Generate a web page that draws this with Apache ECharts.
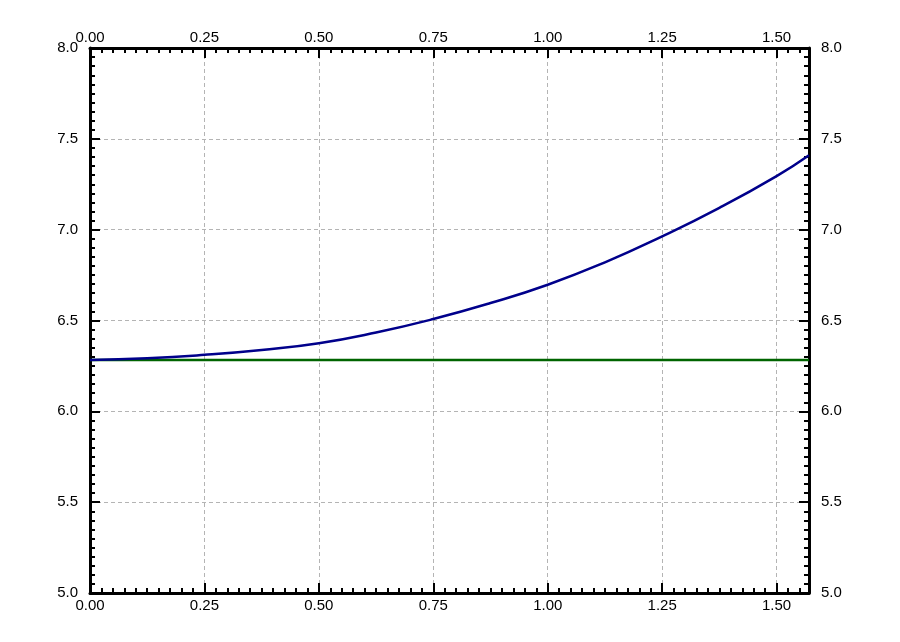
<!DOCTYPE html>
<html>
<head>
<meta charset="utf-8">
<script src="https://cdn.jsdelivr.net/npm/echarts@6/dist/echarts.min.js"></script>
<style>html,body{margin:0;padding:0;background:#fff;}#c{width:900px;height:642px;}</style>
</head>
<body>
<div id="c"></div>
<script>
// x positions (radians)
var xValues = [0, 0.125, 0.25, 0.375, 0.5, 0.625, 0.75, 0.875, 1.0, 1.125, 1.25, 1.375, 1.5, 1.5708];
// blue curve values
var blueValues = [6.283, 6.292, 6.311, 6.338, 6.375, 6.434, 6.508, 6.596, 6.697, 6.820, 6.963, 7.120, 7.295, 7.410];
// green horizontal line (constant) endpoints
var greenX = [0, 1.5708];
var greenValues = [6.2832, 6.2832];

var xMin = 0, xMax = 1.5708, xMajor = 0.25, xMinor = 0.025;
var yMin = 5, yMax = 8, yMajor = 0.5;

var font = 'Liberation Sans, Arial, sans-serif';
var blueData = xValues.map(function (x, i) { return [x, blueValues[i]]; });
var greenData = greenX.map(function (x, i) { return [x, greenValues[i]]; });

function xMain(pos, showSplit, margin) {
  return {
    type: 'value', position: pos, min: xMin, max: xMax, interval: xMajor,
    axisLine: { show: true, onZero: false, lineStyle: { color: '#000', width: 3 } },
    axisTick: { show: true, inside: true, length: 10, lineStyle: { color: '#000', width: 2 } },
    axisLabel: { show: true, margin: margin, color: '#000', fontSize: 15, fontFamily: font,
      showMaxLabel: false, formatter: function (v) { return v.toFixed(2); } },
    splitLine: { show: showSplit, lineStyle: { color: '#b4b4b4', type: [4, 3], width: 1 } }
  };
}
function xMinorAxis(pos) {
  return {
    type: 'value', position: pos, min: xMin, max: xMax, interval: xMinor,
    axisLine: { show: false, onZero: false },
    axisTick: { show: true, inside: true, length: 5, lineStyle: { color: '#000', width: 2 } },
    axisLabel: { show: false },
    splitLine: { show: false }
  };
}
function yMain(pos, showSplit) {
  return {
    type: 'value', position: pos, min: yMin, max: yMax, interval: yMajor,
    axisLine: { show: true, onZero: false, lineStyle: { color: '#000', width: 3 } },
    axisTick: { show: true, inside: true, length: 10, lineStyle: { color: '#000', width: 2 } },
    minorTick: { show: true, splitNumber: 10, length: 5, lineStyle: { color: '#000', width: 2 } },
    axisLabel: { show: true, margin: 12, color: '#000', fontSize: 15, fontFamily: font,
      padding: [6, 0, 0, 0], formatter: function (v) { return v.toFixed(1); } },
    splitLine: { show: showSplit, lineStyle: { color: '#b4b4b4', type: [4, 3], width: 1 } }
  };
}

var chart = echarts.init(document.getElementById('c'), null, { renderer: 'canvas' });
chart.setOption({
  animation: false,
  backgroundColor: '#fff',
  grid: { left: 90, right: 91, top: 48, bottom: 49, containLabel: false },
  xAxis: [xMain('bottom', true, 5), xMain('top', false, 3), xMinorAxis('bottom'), xMinorAxis('top')],
  yAxis: [yMain('left', true), yMain('right', false)],
  series: [
    { type: 'line', xAxisIndex: 0, yAxisIndex: 0, data: greenData, showSymbol: false,
      lineStyle: { color: '#006400', width: 2.5 }, z: 3 },
    { type: 'line', xAxisIndex: 0, yAxisIndex: 0, data: blueData, showSymbol: false, smooth: true,
      lineStyle: { color: '#00008b', width: 2.5 }, z: 4 }
  ]
});
</script>
</body>
</html>
